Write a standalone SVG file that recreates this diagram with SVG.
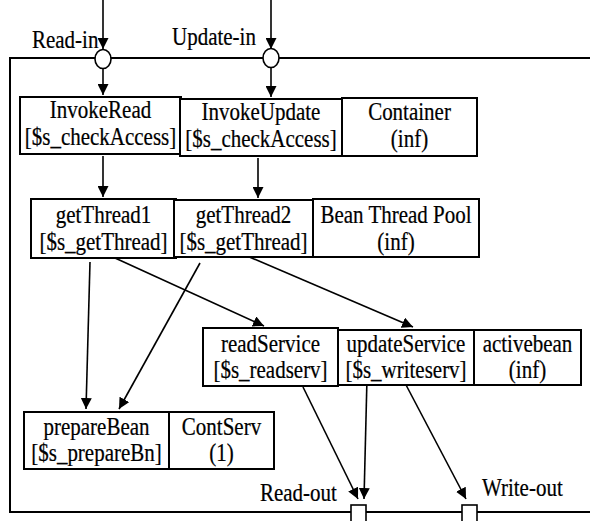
<svg xmlns="http://www.w3.org/2000/svg" width="590" height="521" viewBox="0 0 590 521">
<style>
  .box { fill: #fff; stroke: #000; stroke-width: 2; }
  text { font-family: 'Liberation Serif', 'DejaVu Serif', serif; font-size: 21px; fill: #000; stroke: #000; stroke-width: 0.2; }
  .t { text-anchor: middle; }
  .frame { fill: none; stroke: #000; stroke-width: 2; }
  .conn { stroke: #000; stroke-width: 1.6; fill: none; marker-end: url(#ah); }
  .port { fill: #fff; stroke: #000; stroke-width: 1.6; }
</style>
<defs>
  <marker id="ah" viewBox="0 0 10 10" refX="10" refY="5" markerWidth="11" markerHeight="11" markerUnits="userSpaceOnUse" orient="auto">
    <path d="M0,0 L10,5 L0,10 z" fill="#000"/>
  </marker>
</defs>
<rect width="590" height="521" fill="#fff"/>

<g id="frame">
  <polyline class="frame" points="590,58 10,58 10,512 590,512"/>
</g>

<g id="connectors">
  <line class="conn" x1="103" y1="0" x2="103" y2="49"/>
  <line class="conn" x1="271" y1="0" x2="271" y2="49"/>
  <line class="conn" x1="103" y1="68" x2="103" y2="95"/>
  <line class="conn" x1="271" y1="68" x2="271" y2="97"/>
  <line class="conn" x1="103" y1="156" x2="103" y2="197"/>
  <line class="conn" x1="258" y1="158" x2="258" y2="198"/>
  <line class="conn" x1="90" y1="262" x2="86" y2="409"/>
  <line class="conn" x1="115" y1="258" x2="264" y2="326"/>
  <line class="conn" x1="200" y1="263" x2="119" y2="409"/>
  <line class="conn" x1="240" y1="253" x2="413" y2="327"/>
  <line class="conn" x1="303" y1="387" x2="358" y2="499"/>
  <line class="conn" x1="367" y1="378" x2="364" y2="499"/>
  <line class="conn" x1="405" y1="383" x2="466" y2="499"/>
</g>

<g id="Read-in">
  <ellipse class="port" cx="103" cy="59" rx="8" ry="9.5"/>
  <text transform="translate(32,48) scale(1,1.15)">Read-in</text>
</g>
<g id="Update-in">
  <ellipse class="port" cx="271" cy="58" rx="8" ry="9.5"/>
  <text transform="translate(172,45) scale(1,1.15)">Update-in</text>
</g>

<g id="InvokeRead">
  <rect class="box" x="20" y="97" width="161" height="57"/>
  <text class="t" transform="translate(100.5,118) scale(1,1.15)">InvokeRead</text>
  <text class="t" transform="translate(100.5,145) scale(1,1.15)">[$s_checkAccess]</text>
</g>
<g id="InvokeUpdate">
  <rect class="box" x="180" y="99" width="162" height="57"/>
  <text class="t" transform="translate(261,120) scale(1,1.15)">InvokeUpdate</text>
  <text class="t" transform="translate(261,147) scale(1,1.15)">[$s_checkAccess]</text>
</g>
<g id="Container">
  <rect class="box" x="342" y="98" width="135" height="58"/>
  <text class="t" transform="translate(409.5,120) scale(1,1.15)">Container</text>
  <text class="t" transform="translate(409.5,147) scale(1,1.15)">(inf)</text>
</g>

<g id="getThread1">
  <rect class="box" x="31" y="199" width="145" height="59"/>
  <text class="t" transform="translate(103.5,223) scale(1,1.15)">getThread1</text>
  <text class="t" transform="translate(103.5,250) scale(1,1.15)">[$s_getThread]</text>
</g>
<g id="getThread2">
  <rect class="box" x="174" y="200" width="139" height="57"/>
  <text class="t" transform="translate(243.5,223) scale(1,1.15)">getThread2</text>
  <text class="t" transform="translate(243.5,250) scale(1,1.15)">[$s_getThread]</text>
</g>
<g id="BeanThreadPool">
  <rect class="box" x="313" y="199" width="166" height="58"/>
  <text class="t" transform="translate(396,223) scale(1,1.15)">Bean Thread Pool</text>
  <text class="t" transform="translate(396,250) scale(1,1.15)">(inf)</text>
</g>

<g id="readService">
  <rect class="box" x="203" y="328" width="135" height="58"/>
  <text class="t" transform="translate(270.5,352) scale(1,1.15)">readService</text>
  <text class="t" transform="translate(270.5,378) scale(1,1.15)">[$s_readserv]</text>
</g>
<g id="updateService">
  <rect class="box" x="338" y="330" width="136" height="55"/>
  <text class="t" transform="translate(406,352) scale(1,1.15)">updateService</text>
  <text class="t" transform="translate(406,378) scale(1,1.15)">[$s_writeserv]</text>
</g>
<g id="activebean">
  <rect class="box" x="474" y="330" width="107" height="55"/>
  <text class="t" transform="translate(527.5,352) scale(1,1.15)">activebean</text>
  <text class="t" transform="translate(527.5,378) scale(1,1.15)">(inf)</text>
</g>

<g id="prepareBean">
  <rect class="box" x="24" y="412" width="145" height="57"/>
  <text class="t" transform="translate(96.5,435) scale(1,1.15)">prepareBean</text>
  <text class="t" transform="translate(96.5,461) scale(1,1.15)">[$s_prepareBn]</text>
</g>
<g id="ContServ">
  <rect class="box" x="169" y="412" width="105" height="57"/>
  <text class="t" transform="translate(221.5,435) scale(1,1.15)">ContServ</text>
  <text class="t" transform="translate(221.5,461) scale(1,1.15)">(1)</text>
</g>

<g id="Read-out">
  <rect class="port" x="351" y="505" width="15" height="20"/>
  <text transform="translate(260,501) scale(1,1.15)">Read-out</text>
</g>
<g id="Write-out">
  <rect class="port" x="462" y="505" width="15" height="20"/>
  <text transform="translate(482,496) scale(1,1.15)">Write-out</text>
</g>
</svg>
